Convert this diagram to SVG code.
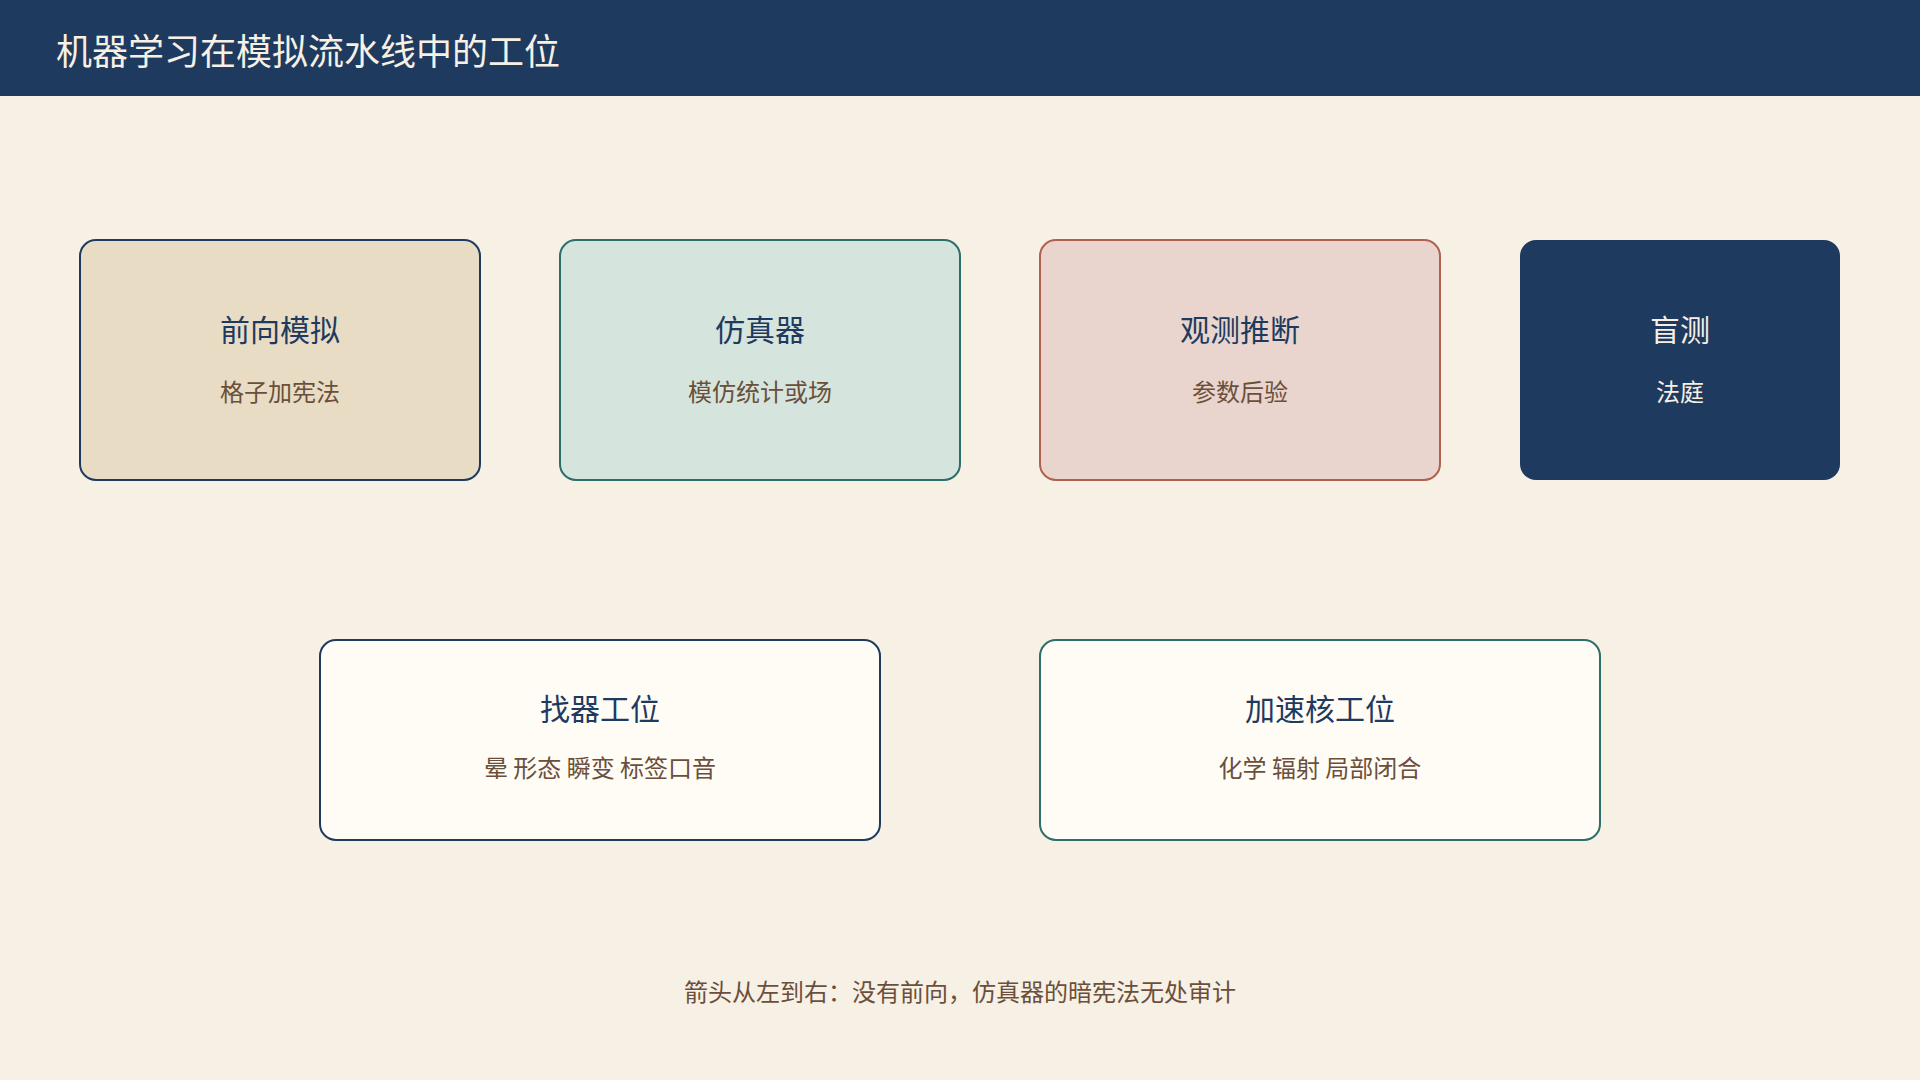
<svg xmlns="http://www.w3.org/2000/svg" width="1920" height="1080" viewBox="0 0 1920 1080">
  <style>
    text { font-family: "Noto Sans CJK SC", "Noto Sans", sans-serif; text-anchor: middle; }
    .title { font-size: 30px; fill: #1f3a5f; }
    .sub { font-size: 24px; fill: #6b4f3a; }
    .inv { fill: #f7efe4; }
    .box { stroke-width: 2; }
  </style>
  <rect x="0" y="0" width="1920" height="1080" fill="#f7f0e5"/>
  <g id="header">
    <rect x="0" y="0" width="1920" height="96" fill="#1f3a5f"/>
    <text x="56" y="65" style="text-anchor:start;font-size:36px;fill:#f7f0e5">机器学习在模拟流水线中的工位</text>
  </g>
  <g id="connectors"></g>
  <g id="node-forward">
    <rect class="box" x="80" y="240" width="400" height="240" rx="16" fill="#e8dcc4" stroke="#1f3a5f"/>
    <text class="title" x="280" y="341">前向模拟</text>
    <text class="sub" x="280" y="401">格子加宪法</text>
  </g>
  <g id="node-emulator">
    <rect class="box" x="560" y="240" width="400" height="240" rx="16" fill="#d5e4dd" stroke="#2c6e68"/>
    <text class="title" x="760" y="341">仿真器</text>
    <text class="sub" x="760" y="401">模仿统计或场</text>
  </g>
  <g id="node-inference">
    <rect class="box" x="1040" y="240" width="400" height="240" rx="16" fill="#e9d5ce" stroke="#b0604f"/>
    <text class="title" x="1240" y="341">观测推断</text>
    <text class="sub" x="1240" y="401">参数后验</text>
  </g>
  <g id="node-blind">
    <rect x="1520" y="240" width="320" height="240" rx="16" fill="#1f3a5f"/>
    <text class="title inv" x="1680" y="341">盲测</text>
    <text class="sub inv" x="1680" y="401">法庭</text>
  </g>
  <g id="node-finder">
    <rect class="box" x="320" y="640" width="560" height="200" rx="16" fill="#fffcf6" stroke="#1f3a5f"/>
    <text class="title" x="600" y="720">找器工位</text>
    <text class="sub" x="600" y="777">晕 形态 瞬变 标签口音</text>
  </g>
  <g id="node-accel">
    <rect class="box" x="1040" y="640" width="560" height="200" rx="16" fill="#fffcf6" stroke="#2c6e68"/>
    <text class="title" x="1320" y="720">加速核工位</text>
    <text class="sub" x="1320" y="777">化学 辐射 局部闭合</text>
  </g>
  <text class="sub" x="960" y="1001">箭头从左到右：没有前向，仿真器的暗宪法无处审计</text>
</svg>
